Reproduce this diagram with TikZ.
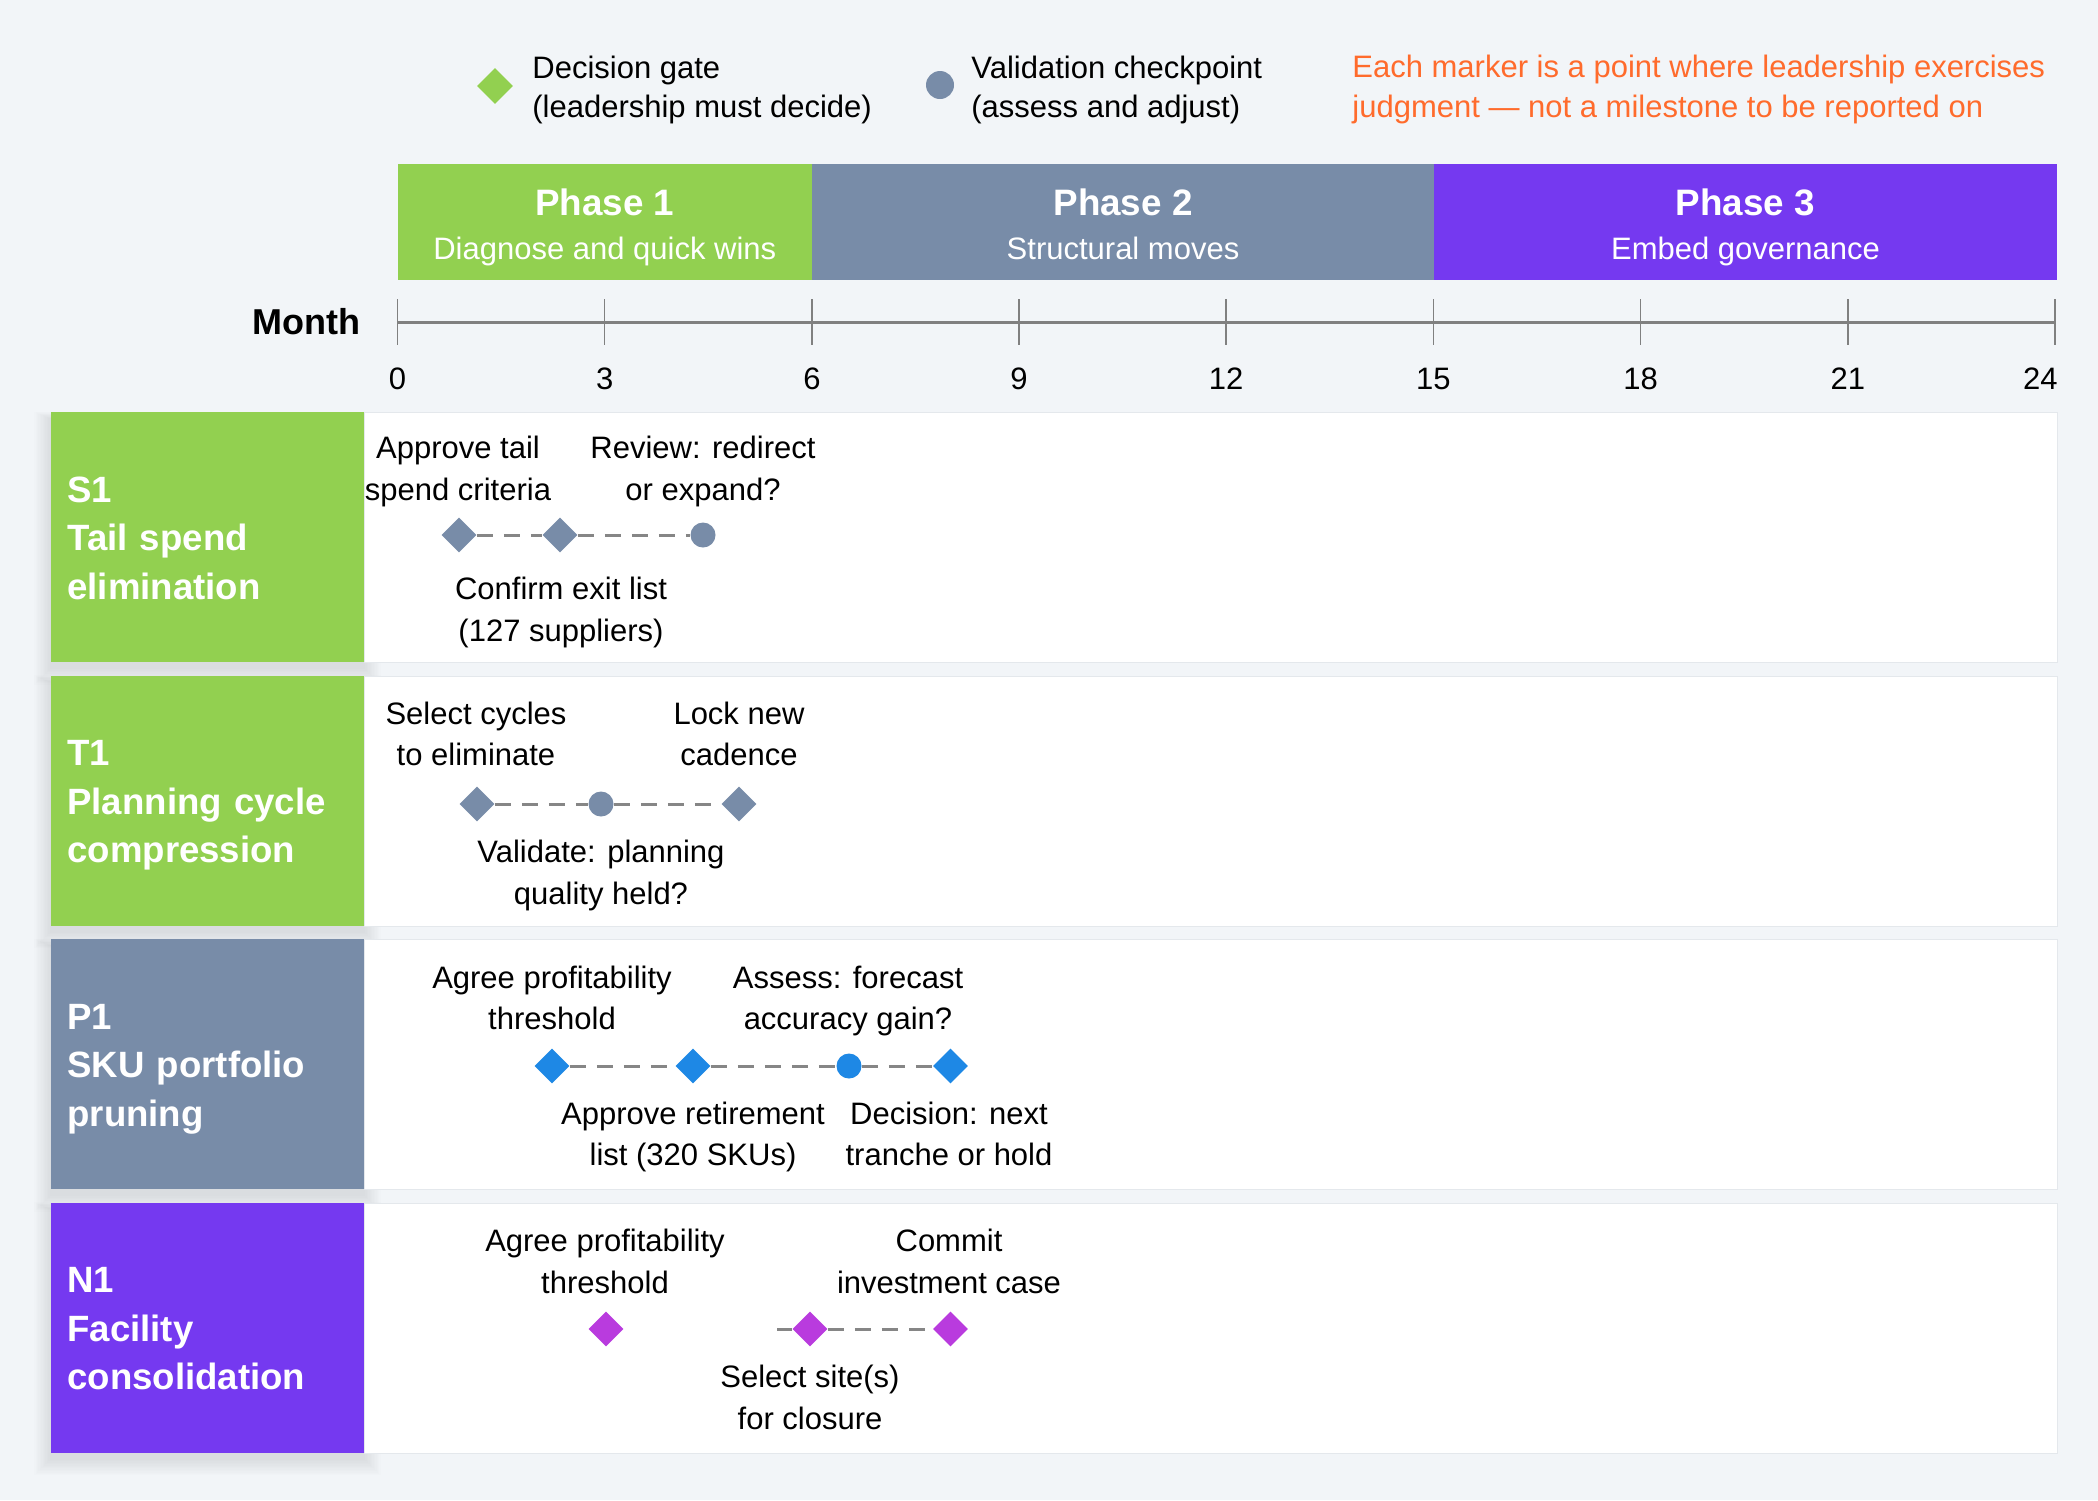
\documentclass[tikz,border=0pt]{standalone}
\usepackage{fontspec}
\setmainfont{Liberation Sans}
\usetikzlibrary{shapes.geometric}
\definecolor{bgc}{HTML}{F2F5F8}
\definecolor{grn}{HTML}{92D050}
\definecolor{slate}{HTML}{788CA8}
\definecolor{purp}{HTML}{7539F0}
\definecolor{blu}{HTML}{1E88E5}
\definecolor{mag}{HTML}{B93BDE}
\definecolor{orng}{HTML}{FF6B2C}
\definecolor{dashc}{HTML}{868686}
\definecolor{axisc}{HTML}{808080}
\definecolor{panelc}{HTML}{E4E8EC}
\pgfdeclarelayer{bg}
\pgfdeclarelayer{mid}
\pgfsetlayers{bg,mid,main}
\newcommand{\twoline}[2]{\strut #1\\\strut #2}
\newcommand{\toprule}{\rule{0pt}{18.1pt}}
\newcommand{\botrule}{\rule[-5pt]{0pt}{5pt}}
\begin{document}
\begin{tikzpicture}[x=0.5pt,y=-0.5pt,
  every node/.style={inner sep=0pt},
  body/.style={font=\fontsize{15.5}{20.75}\selectfont, align=center},
  legtext/.style={font=\fontsize{15.5}{19.5}\selectfont, align=left, anchor=west},
  gate/.style={diamond, aspect=1, minimum size=17.5pt, inner sep=0pt},
  check/.style={circle, minimum size=12.5pt, inner sep=0pt},
  link/.style={draw=dashc, line width=1.5pt, dash pattern=on 8pt off 5.5pt},
  rowlab/.style={anchor=north west, minimum height=125pt, text width=140.5pt, inner xsep=8pt, inner ysep=0pt, align=left, text=white, font=\bfseries\fontsize{18.3}{24.25}\selectfont},
  panel/.style={anchor=north west, fill=white, draw=panelc, line width=0.5pt, minimum width=846.5pt, minimum height=125pt, inner sep=0pt},
  phasebar/.style={anchor=north west, minimum height=58pt, inner sep=0pt},
  phtitle/.style={text=white, font=\bfseries\fontsize{18.4}{22}\selectfont, text height=13.2pt, text depth=0pt},
  phsub/.style={text=white, font=\fontsize{15.5}{19}\selectfont, text height=11.1pt, text depth=0pt},
  ticklab/.style={font=\fontsize{15.5}{19}\selectfont, text height=11.1pt, text depth=0pt}
]
\useasboundingbox (0,0) rectangle (2098,1500);

\begin{pgfonlayer}{bg}
  \fill[bgc] (0,0) rectangle (2098,1500);
  \foreach \t in {412,675.5,939,1202.5} {
    \foreach \i in {1,...,12} {
      \fill[black,opacity=0.006] (51-1.4*\i, \t+7-0.6*\i) rectangle (364+1.4*\i, \t+256+1.4*\i);
    }
  }
  \node[panel] (s1panel) at (364,412) {};
  \node[panel] (t1panel) at (364,675.5) {};
  \node[panel] (p1panel) at (364,939) {};
  \node[panel] (n1panel) at (364,1202.5) {};
\end{pgfonlayer}

% Legend
\node[gate, fill=grn, minimum size=18pt] (lg) at (495,86) {};
\node[legtext] (lgt) at (532,90.3) {\strut Decision gate\\\strut (leadership must decide)};
\node[check, fill=slate, minimum size=14pt] (lc) at (940,85) {};
\node[legtext] (lct) at (971,90.3) {\strut Validation checkpoint\\\strut (assess and adjust)};
\node[legtext, font=\fontsize{15.5}{20}\selectfont, text=orng] (note) at (1352,89.5) {\strut Each marker is a point where leadership exercises\\\strut judgment — not a milestone to be reported on};

% Phases
\node[phasebar, fill=grn, minimum width=207.25pt] (ph1) at (397.5,164) {};
\node[phasebar, fill=slate, minimum width=311pt] (ph2) at (812,164) {};
\node[phasebar, fill=purp, minimum width=311.5pt] (ph3) at (1434,164) {};
\node[phtitle] (ph1t) at (604.75,202) {Phase 1};
\node[phsub] (ph1s) at (604.75,248) {Diagnose and quick wins};
\node[phtitle] (ph2t) at (1123,202) {Phase 2};
\node[phsub] (ph2s) at (1123,248) {Structural moves};
\node[phtitle] (ph3t) at (1745.5,202) {Phase 3};
\node[phsub] (ph3s) at (1745.5,248) {Embed governance};

% Axis
\node[font=\bfseries\fontsize{18}{22}\selectfont, anchor=east, text height=12.9pt, text depth=0pt] (month) at (361,321.7) {Month};
\draw[axisc, line width=1.5pt] (397.5,322) -- (2055,322);
\foreach \m in {0,3,...,24} {
  \draw[axisc, line width=0.75pt] ({397.5+69.06*\m},299) -- ({397.5+69.06*\m},345);
}
\foreach \m in {0,3,...,21} {
  \node[ticklab] (tick\m) at ({397.5+69.06*\m},378.7) {\m};
}
\node[ticklab, anchor=east] (tick24) at (2058,378.7) {24};

% Row labels
\node[rowlab, fill=grn] (s1lab) at (51,412) {\toprule S1\\Tail spend\\elimination\botrule};
\node[rowlab, fill=grn] (t1lab) at (51,675.5) {\toprule T1\\Planning cycle\\compression\botrule};
\node[rowlab, fill=slate] (p1lab) at (51,939) {\toprule P1\\SKU portfolio\\pruning\botrule};
\node[rowlab, fill=purp] (n1lab) at (51,1202.5) {\toprule N1\\Facility\\consolidation\botrule};

% S1
\node[gate, fill=slate] (s1a) at (459,535) {};
\node[gate, fill=slate] (s1b) at (560,535) {};
\node[check, fill=slate] (s1c) at (703,535) {};
\node[body] (s1at) at (458,471) {\twoline{Approve tail}{spend criteria}};
\node[body] (s1ct) at (703,471) {\twoline{Review: redirect}{or expand?}};
\node[body] (s1bt) at (561,612) {\twoline{Confirm exit list}{(127 suppliers)}};

% T1
\node[gate, fill=slate] (t1a) at (477,804) {};
\node[check, fill=slate] (t1b) at (601,804) {};
\node[gate, fill=slate] (t1c) at (739,804) {};
\node[body] (t1at) at (476,736.7) {\twoline{Select cycles}{to eliminate}};
\node[body] (t1ct) at (739,736.7) {\twoline{Lock new}{cadence}};
\node[body] (t1bt) at (601,875) {\twoline{Validate: planning}{quality held?}};

% P1
\node[gate, fill=blu] (p1a) at (552,1066) {};
\node[gate, fill=blu] (p1b) at (693,1066) {};
\node[check, fill=blu] (p1c) at (849,1066) {};
\node[gate, fill=blu] (p1d) at (950.5,1066) {};
\node[body] (p1at) at (552,1000.7) {\twoline{Agree profitability}{threshold}};
\node[body] (p1ct) at (848,1000.7) {\twoline{Assess: forecast}{accuracy gain?}};
\node[body] (p1bt) at (693,1136.7) {\twoline{Approve retirement}{list (320 SKUs)}};
\node[body] (p1dt) at (949,1136.7) {\twoline{Decision: next}{tranche or hold}};

% N1
\node[gate, fill=mag] (n1a) at (606,1329) {};
\node[gate, fill=mag] (n1b) at (810,1329) {};
\node[gate, fill=mag] (n1c) at (950.5,1329) {};
\coordinate (n1s) at (777,1329);
\node[body] (n1at) at (605,1264) {\twoline{Agree profitability}{threshold}};
\node[body] (n1ct) at (949,1264) {\twoline{Commit}{investment case}};
\node[body] (n1bt) at (810,1400) {\twoline{Select site(s)}{for closure}};

\begin{pgfonlayer}{mid}
  \draw[link] (s1a) -- (s1b) -- (s1c);
  \draw[link] (t1a) -- (t1b) -- (t1c);
  \draw[link] (p1a) -- (p1b) -- (p1c) -- (p1d);
  \draw[link] (n1s) -- (n1b) -- (n1c);
\end{pgfonlayer}
\end{tikzpicture}
\end{document}
